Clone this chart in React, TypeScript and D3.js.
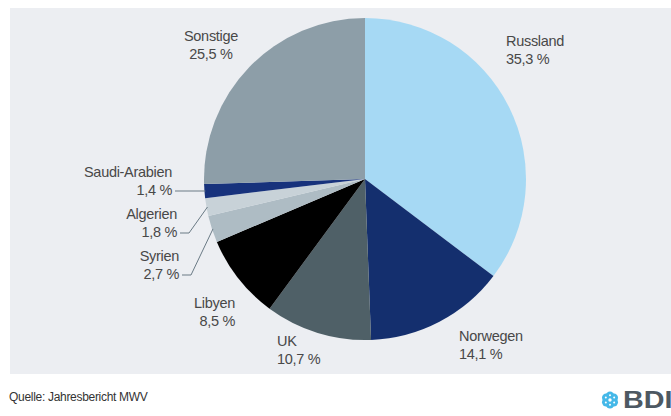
import React from 'react';
import * as d3 from 'd3';

const countries = ['Russland', 'Norwegen', 'UK', 'Libyen', 'Syrien', 'Algerien', 'Saudi-Arabien', 'Sonstige'];
const shares = [35.3, 14.1, 10.7, 8.5, 2.7, 1.8, 1.4, 25.5];
const shareLabels = ['35,3 %', '14,1 %', '10,7 %', '8,5 %', '2,7 %', '1,8 %', '1,4 %', '25,5 %'];
const sliceColors = ['#a6d9f4', '#142f6e', '#4f6067', '#000000', '#aebcc4', '#c8d2d8', '#17327c', '#8d9ea8'];

// label placement (x, baseline of first line, anchor) and whether a leader line is drawn
const labelPos: [number, number, string, boolean][] = [
  [506, 46, 'start', false],
  [459, 341, 'start', false],
  [277, 346, 'start', false],
  [235, 308, 'end', false],
  [179, 261, 'end', true],
  [177, 219, 'end', true],
  [172, 177, 'end', true],
];
const sonstigePos: [number, number] = [211, 41];

const W = 671;
const H = 416;
const cx = 365;
const cy = 179;
const R = 161;

export default function App() {
  const pie = d3.pie<number>().sort(null).startAngle(0).endAngle(2 * Math.PI);
  const arcs = pie(shares);
  const arc = d3.arc<d3.PieArcDatum<number>>().innerRadius(0).outerRadius(R);

  const pt = (a: number, r: number) => [cx + r * Math.sin(a), cy - r * Math.cos(a)];

  const font = '"Liberation Sans", Arial, sans-serif';
  const txt = '#484848';
  const fs = 14.5;

  return (
    <svg width={W} height={H} style={{ position: 'absolute', left: 0, top: 0, background: '#fff' }}>
      <rect x={10} y={8} width={W - 10} height={366} fill="#eceef2" />
      <g transform={`translate(${cx},${cy})`}>
        {arcs.map((d, i) => (
          <path key={countries[i]} d={arc(d) || ''} fill={sliceColors[i]} />
        ))}
      </g>
      {arcs.map((d, i) => {
        if (i >= labelPos.length) return null;
        const [x, y, anchor, leader] = labelPos[i];
        let line = null;
        if (leader) {
          const mid = (d.startAngle + d.endAngle) / 2;
          const [px, py] = pt(mid, R - 1);
          const ly = y + 18 - 4;
          const ex = x + 12;
          const path = d3.path();
          path.moveTo(x + 3, ly);
          path.lineTo(i === 6 ? px : ex, ly);
          if (i !== 6) path.lineTo(px, py);
          line = <path d={path.toString()} fill="none" stroke="#6a7a85" strokeWidth={1} />;
        }
        return (
          <g key={'l' + i}>
            {line}
            <text x={x} y={y} textAnchor={anchor} fontFamily={font} fontSize={fs} fill={txt} letterSpacing={-0.3}>
              {countries[i]}
            </text>
            <text x={x} y={y + 18} textAnchor={anchor} fontFamily={font} fontSize={fs} fill={txt} letterSpacing={-0.3}>
              {shareLabels[i]}
            </text>
          </g>
        );
      })}
      <text x={sonstigePos[0]} y={sonstigePos[1]} textAnchor="middle" fontFamily={font} fontSize={fs} fill={txt} letterSpacing={-0.3}>
        {countries[7]}
      </text>
      <text x={sonstigePos[0]} y={sonstigePos[1] + 18} textAnchor="middle" fontFamily={font} fontSize={fs} fill={txt} letterSpacing={-0.3}>
        {shareLabels[7]}
      </text>
      <text x={9} y={401} fontFamily={font} fontSize={12} fill="#333" letterSpacing={-0.3}>
        Quelle: Jahresbericht MWV
      </text>
      <g transform="translate(610,400)">
        {d3.range(6).map((k) => {
          const a = (k * Math.PI) / 3;
          return <circle key={k} cx={4.4 * Math.sin(a)} cy={-4.4 * Math.cos(a)} r={4.2} fill="#45b8e8" />;
        })}
        <circle r={4} fill="#45b8e8" />
        <circle r={1.7} fill="#fff" />
        {d3.range(6).map((k) => {
          const a = (k * Math.PI) / 3;
          return <circle key={'w' + k} cx={4.8 * Math.sin(a)} cy={-4.8 * Math.cos(a)} r={1} fill="#fff" />;
        })}
      </g>
      <text transform="translate(623,408) scale(1.25,1)" fontFamily={font} fontSize={23} fontWeight="bold" fill="#4d5862">
        BDI
      </text>
    </svg>
  );
}
